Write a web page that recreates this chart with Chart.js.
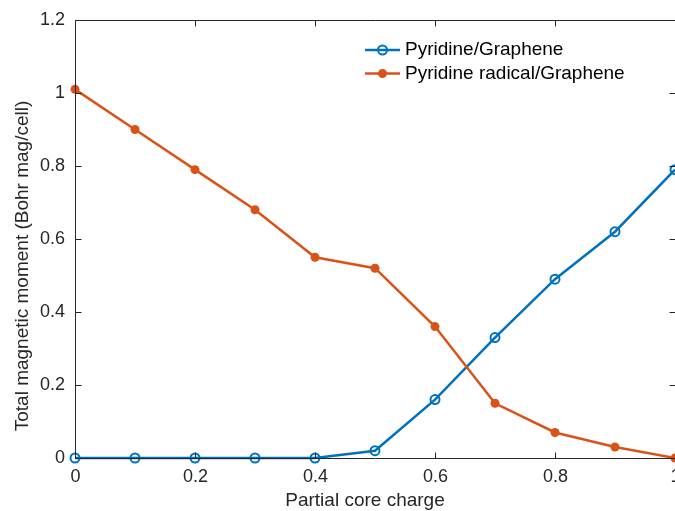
<!DOCTYPE html>
<html><head><meta charset="utf-8">
<script src="https://cdn.jsdelivr.net/npm/chart.js@4"></script>
<style>html,body{margin:0;padding:0;background:#fff;}#wrap{width:675px;height:511px;}</style>
</head><body><div id="wrap"><canvas id="c" width="675" height="511"></canvas></div>
<script>
const xValues = [0, 0.1, 0.2, 0.3, 0.4, 0.5, 0.6, 0.7, 0.8, 0.9, 1.0];
const pyridineGraphene = [0, 0, 0, 0, 0, 0.02, 0.16, 0.33, 0.49, 0.62, 0.79];
const radicalGraphene = [1.01, 0.90, 0.79, 0.68, 0.55, 0.52, 0.36, 0.15, 0.07, 0.03, 0.0];
const xTicks = [0, 0.2, 0.4, 0.6, 0.8, 1];
const yTicks = [0, 0.2, 0.4, 0.6, 0.8, 1, 1.2];
const seriesNames = ['Pyridine/Graphene', 'Pyridine radical/Graphene'];
const xTitle = 'Partial core charge';
const yTitle = 'Total magnetic moment (Bohr mag/cell)';

const BLUE = '#0072BD', ORANGE = '#D95319', AX = '#262626';
const FONT = '18px "Liberation Sans", Arial, sans-serif';
const FONT_T = '19px "Liberation Sans", Arial, sans-serif';

function pts(ys){ return xValues.map((x,i)=>({x:x,y:ys[i]})); }

const axesPlugin = {
  id: 'matlabAxes',
  afterDatasetsDraw(chart){
    const ctx = chart.ctx, a = chart.chartArea;
    const xs = chart.scales.x, ys = chart.scales.y;
    ctx.save();
    ctx.strokeStyle = AX; ctx.lineWidth = 1;
    const L = Math.round(a.left)+0.5, R = Math.round(a.right)-0.5, T = Math.round(a.top)+0.5, B = Math.round(a.bottom)+0.5;
    ctx.beginPath();
    ctx.moveTo(L,T); ctx.lineTo(R+2,T); ctx.moveTo(R+2,B); ctx.lineTo(L,B); ctx.lineTo(L,T);
    ctx.stroke();
    ctx.font = FONT; ctx.fillStyle = AX;
    ctx.textAlign = 'center'; ctx.textBaseline = 'middle';
    xTicks.forEach(v=>{
      const px = Math.round(xs.getPixelForValue(v))+0.5;
      ctx.beginPath(); ctx.moveTo(px,B); ctx.lineTo(px,B-6); ctx.moveTo(px,T); ctx.lineTo(px,T+6); ctx.stroke();
      ctx.fillText(String(v), px, 477);
    });
    ctx.textAlign = 'right';
    yTicks.forEach(v=>{
      const py = Math.round(ys.getPixelForValue(v))+0.5;
      ctx.beginPath(); ctx.moveTo(L,py); ctx.lineTo(L+6,py); ctx.moveTo(R+1,py); ctx.lineTo(R-5,py); ctx.stroke();
      ctx.fillText(String(v), 65, py);
    });
    ctx.font = FONT_T;
    ctx.textAlign = 'center';
    ctx.fillText(xTitle, 365, 501);
    ctx.save();
    ctx.translate(23, 266); ctx.rotate(-Math.PI/2);
    ctx.fillText(yTitle, 0, 0);
    ctx.restore();
    const items = [[seriesNames[0], BLUE, false], [seriesNames[1], ORANGE, true]];
    items.forEach((it,i)=>{
      const y = 50 + i*23.5;
      ctx.strokeStyle = it[1]; ctx.lineWidth = 2.5;
      ctx.beginPath(); ctx.moveTo(365,y); ctx.lineTo(400,y); ctx.stroke();
      ctx.beginPath(); ctx.arc(382.5,y,4.5,0,Math.PI*2);
      if(it[2]){ ctx.fillStyle = it[1]; ctx.fill(); } else { ctx.lineWidth = 2; ctx.stroke(); }
      ctx.fillStyle = '#000'; ctx.textAlign = 'left';
      ctx.fillText(it[0], 405, y);
    });
    ctx.restore();
  }
};

new Chart(document.getElementById('c'), {
  type: 'line',
  data: {
    datasets: [
      { label: seriesNames[0], data: pts(pyridineGraphene), borderColor: BLUE, borderWidth: 2.5,
        pointRadius: 4.5, pointBorderWidth: 2, pointBackgroundColor: 'rgba(0,0,0,0)', pointBorderColor: BLUE,
        tension: 0, clip: false, order: 2 },
      { label: seriesNames[1], data: pts(radicalGraphene), borderColor: ORANGE, borderWidth: 2.5,
        pointRadius: 4.5, pointBorderWidth: 0, pointBackgroundColor: ORANGE, pointBorderColor: ORANGE,
        tension: 0, clip: false, order: 1 }
    ]
  },
  options: {
    responsive: false, animation: false, devicePixelRatio: 1,
    layout: { autoPadding: false, padding: { left: 75, top: 20, right: 0, bottom: 53 } },
    scales: {
      x: { type: 'linear', min: 0, max: 1, display: false },
      y: { type: 'linear', min: 0, max: 1.2, display: false }
    },
    plugins: { legend: { display: false }, tooltip: { enabled: false } }
  },
  plugins: [axesPlugin]
});
</script></body></html>
